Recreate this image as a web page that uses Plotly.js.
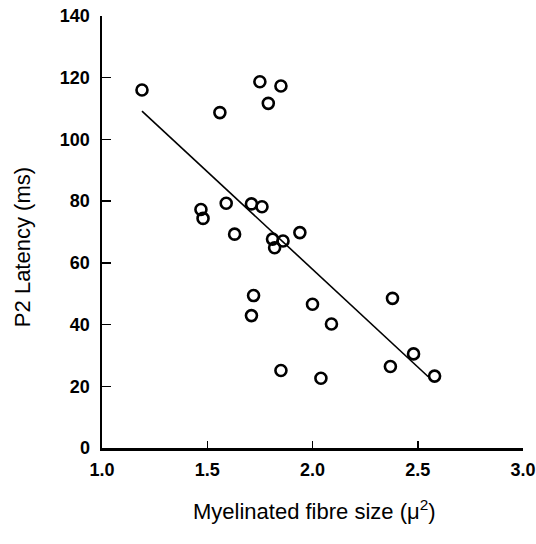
<!DOCTYPE html>
<html>
<head>
<meta charset="utf-8">
<script src="https://cdn.plot.ly/plotly-3.0.1.min.js"></script>
<style>html,body{margin:0;padding:0;background:#fff;}#chart{width:536px;height:544px;}</style>
</head>
<body>
<div id="chart"></div>
<script>
// Observed data points (myelinated fibre size, P2 latency)
const fibreSize = [1.19, 1.56, 1.75, 1.85, 1.79, 1.47, 1.48, 1.59, 1.71, 1.76, 1.63, 1.81, 1.82, 1.86, 1.94, 1.72, 1.71, 2.00, 2.09, 2.38, 2.48, 2.37, 2.58, 1.85, 2.04];
const latency   = [116.0, 108.7, 118.7, 117.3, 111.7, 77.3, 74.4, 79.3, 79.1, 78.2, 69.3, 67.7, 64.9, 67.1, 69.8, 49.4, 42.9, 46.6, 40.2, 48.5, 30.5, 26.4, 23.3, 25.1, 22.6];
// Regression line end points
const fitX = [1.19, 2.55];
const fitY = [109.2, 23.1];
// Ticks
const xTicks = [1.0, 1.5, 2.0, 2.5, 3.0];
const xTickText = ['1.0', '1.5', '2.0', '2.5', '3.0'];
const yTicks = [0, 20, 40, 60, 80, 100, 120, 140];
// Titles
const xTitle = 'Myelinated fibre size (\u03bc<sup>2</sup>)';
const yTitle = 'P2 Latency (ms)';

const tickFont = {family: 'Liberation Sans, Arial, sans-serif', size: 18, color: '#000', weight: 'bold'};
const titleFont = {family: 'Liberation Sans, Arial, sans-serif', size: 22, color: '#000'};

const data = [
  {x: fitX, y: fitY, mode: 'lines', type: 'scatter', line: {color: '#000', width: 1.6}, hoverinfo: 'skip'},
  {x: fibreSize, y: latency, mode: 'markers', type: 'scatter',
   marker: {symbol: 'circle-open', size: 11, color: '#000', line: {width: 2.6, color: '#000'}}}
];

const layout = {
  width: 536, height: 544,
  margin: {l: 102, r: 13, t: 16, b: 96},
  showlegend: false,
  paper_bgcolor: '#fff', plot_bgcolor: '#fff',
  xaxis: {
    range: [1, 3], tickvals: xTicks, ticktext: xTickText,
    ticks: 'inside', ticklen: 7, tickwidth: 1.5, tickcolor: '#000',
    showline: true, linewidth: 2.5, linecolor: '#000',
    showgrid: false, zeroline: false, tickfont: tickFont,
    ticklabelstandoff: 4, ticklabeloverflow: 'allow',
    automargin: false
  },
  yaxis: {
    range: [0, 140], tickvals: yTicks,
    ticks: 'inside', ticklen: 9, tickwidth: 1.5, tickcolor: '#000',
    showline: true, linewidth: 2.5, linecolor: '#000',
    showgrid: false, zeroline: false, tickfont: tickFont,
    ticklabelstandoff: 6, ticklabeloverflow: 'allow',
    automargin: false
  },
  annotations: [
    {text: xTitle, xref: 'paper', yref: 'paper', x: 0.5036, y: -0.1435,
     xanchor: 'center', yanchor: 'middle', showarrow: false, font: titleFont},
    {text: yTitle, xref: 'paper', yref: 'paper', x: -0.19, y: 0.465, textangle: -90,
     xanchor: 'center', yanchor: 'middle', showarrow: false, font: titleFont}
  ]
};

Plotly.newPlot('chart', data, layout, {displayModeBar: false, staticPlot: true});
</script>
</body>
</html>
